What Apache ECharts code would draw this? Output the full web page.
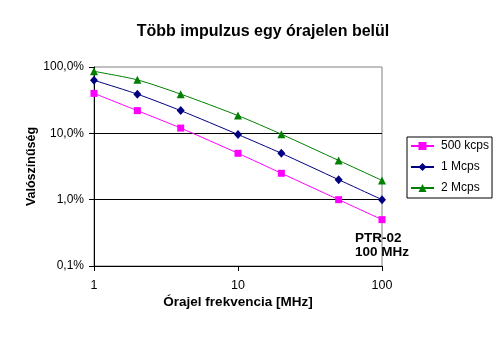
<!DOCTYPE html>
<html>
<head>
<meta charset="utf-8">
<script src="https://cdn.jsdelivr.net/npm/echarts@6/dist/echarts.min.js"></script>
<style>
  html, body { margin: 0; padding: 0; background: #fff; }
  #chart { width: 501px; height: 338px; }
</style>
</head>
<body>
<div id="chart"></div>
<script>
// Clock frequencies (MHz)
const frequencies = [1, 2, 4, 10, 20, 50, 100];
// Probability of more than one pulse per clock period (%)
const series500kcps = [40, 22, 12, 5, 2.5, 1, 0.5];
const series1Mcps = [63, 39, 22, 9.6, 5, 2, 1];
const series2Mcps = [86, 64, 39, 18.5, 9.7, 3.9, 1.95];
const seriesNames = ['500 kcps', '1 Mcps', '2 Mcps'];

const font = 'Liberation Sans, Arial, sans-serif';

function pairs(vals) {
  return frequencies.map((f, i) => [f, vals[i]]);
}

const chart = echarts.init(document.getElementById('chart'), null, { renderer: 'canvas' });

chart.setOption({
  backgroundColor: '#fff',
  animation: false,
  title: {
    text: 'Több impulzus egy órajelen belül',
    left: 258,
    top: 19,
    textAlign: 'center',
    textStyle: { fontFamily: font, fontSize: 16, fontWeight: 'bold', color: '#000' }
  },
  grid: {
    left: 94, right: 119, top: 67, bottom: 72,
    show: true, borderColor: '#808080', borderWidth: 1, backgroundColor: '#fff'
  },
  legend: {
    orient: 'vertical',
    left: 407,
    top: 137,
    padding: [3, 3, 4, 3],
    itemWidth: 23,
    itemHeight: 10,
    itemGap: 9,
    borderColor: '#000',
    borderWidth: 1,
    backgroundColor: '#fff',
    data: seriesNames,
    textStyle: { fontFamily: font, fontSize: 12, color: '#000', padding: [0, 0, 0, 2] }
  },
  xAxis: {
    type: 'log',
    logBase: 10,
    min: 1,
    max: 100,
    name: 'Órajel frekvencia [MHz]',
    nameLocation: 'middle',
    nameGap: 29,
    nameMoveOverlap: false,
    nameTextStyle: { fontFamily: font, fontSize: 13.5, fontWeight: 'bold', color: '#000' },
    axisLine: { show: true, lineStyle: { color: '#000', width: 1 } },
    axisTick: { show: true, length: 5, lineStyle: { color: '#000' } },
    minorTick: { show: false },
    splitLine: { show: false },
    axisLabel: {
      margin: 13,
      fontFamily: font, fontSize: 12.5, color: '#000',
      formatter: v => String(Math.round(v))
    }
  },
  yAxis: {
    type: 'log',
    logBase: 10,
    min: 0.1,
    max: 100,
    name: 'Valószínűség',
    nameLocation: 'middle',
    nameGap: 56,
    nameMoveOverlap: false,
    nameRotate: 90,
    nameTextStyle: { fontFamily: font, fontSize: 12.5, fontWeight: 'bold', color: '#000' },
    axisLine: { show: true, lineStyle: { color: '#000', width: 1 } },
    axisTick: { show: true, length: 5, lineStyle: { color: '#000' } },
    splitLine: { show: true, showMaxLine: false, showMinLine: false, lineStyle: { color: '#000', width: 1 } },
    axisLabel: {
      margin: 10,
      fontFamily: font, fontSize: 12, color: '#000',
      formatter: v => v.toFixed(1).replace('.', ',') + '%'
    }
  },
  graphic: [{
    type: 'text',
    left: 355,
    top: 231,
    style: {
      text: 'PTR-02\n100 MHz',
      fontFamily: font, fontSize: 13.5, fontWeight: 'bold',
      fill: '#000', lineHeight: 14.5
    }
  }],
  series: [
    {
      name: seriesNames[0], type: 'line', data: pairs(series500kcps),
      smooth: 0.25, symbol: 'rect', symbolSize: 7,
      lineStyle: { color: '#FF00FF', width: 1 },
      itemStyle: { color: '#FF00FF' }
    },
    {
      name: seriesNames[1], type: 'line', data: pairs(series1Mcps),
      smooth: 0.25, symbol: 'diamond', symbolSize: [8, 9],
      lineStyle: { color: '#000080', width: 1 },
      itemStyle: { color: '#000080' }
    },
    {
      name: seriesNames[2], type: 'line', data: pairs(series2Mcps),
      smooth: 0.25, symbol: 'triangle', symbolSize: 8,
      lineStyle: { color: '#008000', width: 1 },
      itemStyle: { color: '#008000' }
    }
  ]
});
</script>
</body>
</html>
